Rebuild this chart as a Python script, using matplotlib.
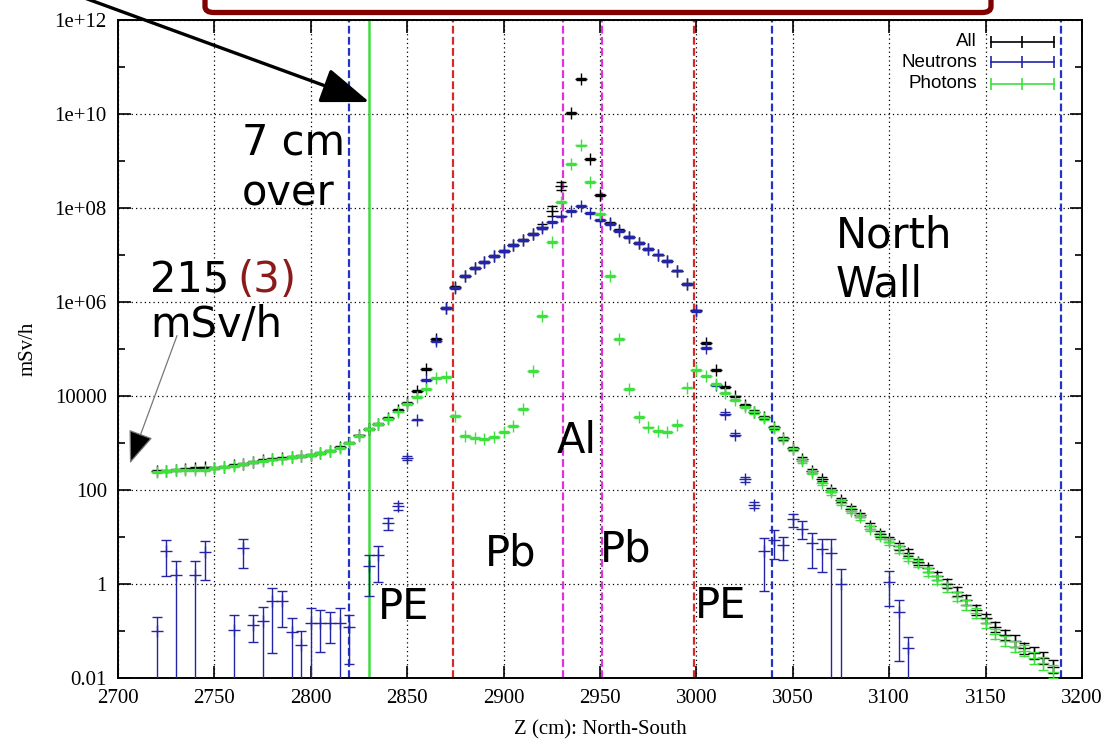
import numpy as np
import matplotlib
matplotlib.use("Agg")
import matplotlib.pyplot as plt
from matplotlib.lines import Line2D
from matplotlib.patches import FancyBboxPatch, FancyArrowPatch

# Dose rate along the North-South axis, one 5 cm bin per entry (log10 of mSv/h)
z_cm = np.arange(2720, 3186, 5)

all_log = [
    2.40, 2.41, 2.42, 2.44, 2.46, 2.48, 2.47, 2.50, 2.53, 2.56,
    2.60, 2.63, 2.66, 2.68, 2.71, 2.73, 2.75, 2.79, 2.84, 2.91,
    3.01, 3.16, 3.30, 3.41, 3.54, 3.70, 3.86, 4.11, 4.57, 5.21,
    5.87, 6.31, 6.56, 6.72, 6.86, 6.98, 7.09, 7.21, 7.32, 7.45,
    7.60, 7.94, 8.47, 10.03, 10.74, 9.04, 8.28, 7.69, 7.53, 7.39,
    7.26, 7.13, 7.01, 6.87, 6.67, 6.38, 5.82, 5.13, 4.55, 4.20,
    3.99, 3.80, 3.67, 3.55, 3.33, 3.10, 2.89, 2.66, 2.41, 2.23,
    2.00, 1.79, 1.60, 1.47, 1.24, 1.07, 0.95, 0.80, 0.67, 0.47,
    0.33, 0.17, 0.01, -0.16, -0.34, -0.55, -0.73, -0.91, -1.09, -1.21,
    -1.37, -1.47, -1.58, -1.76,
]

photons_log = [
    2.39, 2.40, 2.42, 2.43, 2.42, 2.43, 2.46, 2.49, 2.52, 2.55,
    2.59, 2.62, 2.65, 2.67, 2.70, 2.72, 2.74, 2.78, 2.83, 2.90,
    3.00, 3.15, 3.29, 3.40, 3.52, 3.67, 3.83, 3.97, 4.14, 4.38,
    4.40, 3.57, 3.15, 3.10, 3.08, 3.13, 3.23, 3.36, 3.72, 4.53,
    5.71, 7.27, 8.12, 8.93, 9.33, 8.55, 7.87, 6.55, 5.21, 4.14,
    3.55, 3.33, 3.26, 3.23, 3.38, 4.18, 4.56, 4.43, 4.26, 4.07,
    3.91, 3.77, 3.65, 3.53, 3.31, 3.08, 2.87, 2.62, 2.37, 2.14,
    1.95, 1.73, 1.56, 1.42, 1.18, 1.02, 0.90, 0.74, 0.55, 0.44,
    0.26, 0.09, -0.07, -0.27, -0.45, -0.62, -0.84, -1.06, -1.21, -1.33,
    -1.42, -1.58, -1.69, -1.87,
]

neutrons_log = [
    -1.01, 0.71, 0.19, None, 0.20, 0.68, None, None, -0.98, 0.77,
    -0.87, -0.79, -0.36, -0.36, -1.02, -1.30, -0.82, -0.82, -0.82, -0.82,
    -0.92, None, 0.39, 0.62, 1.30, 1.65, 2.69, 3.50, 4.34, 5.16,
    5.87, 6.30, 6.55, 6.72, 6.86, 6.98, 7.09, 7.21, 7.32, 7.45,
    7.58, 7.70, 7.82, 7.94, 8.05, 7.89, 7.74, 7.66, 7.52, 7.39,
    7.26, 7.13, 7.01, 6.87, 6.67, 6.38, 5.81, 5.03, 4.23, 3.62,
    3.18, 2.23, 1.68, 0.71, 0.94, 0.83, 1.38, 1.18, 0.87, 0.74,
    0.65, 0.01, None, None, None, None, 0.05, -0.60, -1.37, None,
    None, None, None, None, None, None, None, None, None, None,
    None, None, None, None,
]

# statistical errors in decades (upper / lower); 5 means the bar runs off the axis
neutrons_up = [
    0.30, 0.23, 0.29, 0, 0.28, 0.24, 0, 0, 0.31, 0.19,
    0.22, 0.31, 0.27, 0.22, 0.30, 0.29, 0.32, 0.27, 0.22, 0.32,
    0.27, 0, 0.23, 0.19, 0.10, 0.07, 0.04, 0.02, 0.02, 0.02,
    0.02, 0.02, 0.02, 0.02, 0.02, 0.02, 0.02, 0.02, 0.02, 0.02,
    0.02, 0.02, 0.02, 0.02, 0.02, 0.02, 0.02, 0.02, 0.02, 0.02,
    0.02, 0.02, 0.02, 0.02, 0.02, 0.02, 0.02, 0.02, 0.02, 0.03,
    0.04, 0.05, 0.06, 0.26, 0.21, 0.16, 0.11, 0.15, 0.22, 0.21,
    0.30, 0.30, 0, 0, 0, 0, 0.23, 0.26, 0.25, 0,
    0, 0, 0, 0, 0, 0, 0, 0, 0, 0,
    0, 0, 0, 0,
]
neutrons_dn = [
    5, 0.54, 5, 0, 5, 0.60, 0, 0, 5, 0.43,
    0.36, 5, 1.11, 0.55, 5, 5, 5, 0.62, 0.44, 5,
    0.79, 0, 0.64, 0.58, 0.15, 0.08, 0.05, 0.02, 0.02, 0.02,
    0.02, 0.02, 0.02, 0.02, 0.02, 0.02, 0.02, 0.02, 0.02, 0.02,
    0.02, 0.02, 0.02, 0.02, 0.02, 0.02, 0.02, 0.02, 0.02, 0.02,
    0.02, 0.02, 0.02, 0.02, 0.02, 0.02, 0.02, 0.02, 0.02, 0.03,
    0.04, 0.05, 0.06, 0.85, 0.41, 0.32, 0.17, 0.23, 0.54, 0.49,
    5, 5, 0, 0, 0, 0, 0.52, 1.03, 5, 0,
    0, 0, 0, 0, 0, 0, 0, 0, 0, 0,
    0, 0, 0, 0,
]
photons_err = [0.02] * 60 + [
    0.02, 0.02, 0.03, 0.03, 0.03, 0.03, 0.03, 0.04, 0.04, 0.04,
    0.05, 0.05, 0.05, 0.05, 0.06, 0.06, 0.06, 0.07, 0.07, 0.07,
    0.08, 0.08, 0.09, 0.09, 0.10, 0.10, 0.10, 0.11, 0.11, 0.12,
    0.12, 0.13, 0.13, 0.14,
]
all_err = [0.02] * 40 + [0.05, 0.10, 0.08] + [0.02] * 17 + [
    0.02, 0.02, 0.03, 0.03, 0.03, 0.03, 0.03, 0.04, 0.04, 0.04,
    0.05, 0.05, 0.05, 0.05, 0.06, 0.06, 0.06, 0.07, 0.07, 0.07,
    0.08, 0.08, 0.09, 0.09, 0.10, 0.10, 0.10, 0.11, 0.11, 0.12,
    0.12, 0.13, 0.13, 0.14,
]

# material boundaries (cm)
wall_edges = [2820, 3039, 3189]
lead_edges = [2874, 2999]
al_edges = [2931, 2951]
shift_line = 2830

ytick_exp = [-2, 0, 2, 4, 6, 8, 10, 12]
ytick_labels = ["0.01", "1", "100", "10000", "1e+06", "1e+08", "1e+10", "1e+12"]

C_ALL = "black"
C_NEU = "#2424a8"
C_PHO = "#3ee03e"


def log_errorbar(ax, z, logv, up, dn, color, zorder):
    logv = np.array([np.nan if v is None else v for v in logv], dtype=float)
    up = np.asarray(up, dtype=float)
    dn = np.asarray(dn, dtype=float)
    ok = ~np.isnan(logv)
    v = 10.0 ** logv[ok]
    yerr = [v - v * 10.0 ** (-dn[ok]), v * 10.0 ** up[ok] - v]
    ax.errorbar(z[ok], v, yerr=yerr, fmt="+", color=color, ms=8.5, mew=1.0,
                elinewidth=1.0, capsize=3.5, capthick=1.0, zorder=zorder)


fig = plt.figure(figsize=(11.15, 7.44), dpi=100)
ax = fig.add_axes([118 / 1115, 66 / 744, 964 / 1115, 658 / 744])
ax.set_yscale("log")
ax.set_xlim(2700, 3200)
ax.set_ylim(1e-2, 1e12)

for x in wall_edges:
    ax.axvline(x, color="#2233c8", ls=(0, (3.5, 1.5)), lw=1.6, zorder=2)
for x in lead_edges:
    ax.axvline(x, color="#d42a2a", ls=(0, (3.5, 1.5)), lw=1.6, zorder=2)
for x in al_edges:
    ax.axvline(x, color="#e030e0", ls=(0, (3.5, 1.5)), lw=1.6, zorder=2)
ax.axvline(shift_line, color="#40dd40", lw=1.8, zorder=2)

log_errorbar(ax, z_cm, all_log, all_err, all_err, C_ALL, 3)
log_errorbar(ax, z_cm, neutrons_log, neutrons_up, neutrons_dn, C_NEU, 4)
log_errorbar(ax, z_cm, photons_log, photons_err, photons_err, C_PHO, 5)

# axes, ticks, grid
ax.set_xticks(np.arange(2700, 3201, 50))
ax.set_yticks([10.0 ** e for e in ytick_exp])
ax.set_yticklabels(ytick_labels)
ax.set_yticks([10.0 ** e for e in range(-1, 12, 2)], minor=True)
ax.set_yticklabels([], minor=True)
ax.tick_params(which="both", direction="in", top=True, right=True, width=1.2)
ax.tick_params(which="major", length=9, pad=8)
ax.tick_params(which="minor", length=5)
ax.grid(True, which="major", ls=(0, (1, 2.5)), color="black", lw=0.9)
for lab in ax.get_xticklabels() + ax.get_yticklabels():
    lab.set_family("Liberation Serif")
    lab.set_fontsize(15)
for s in ax.spines.values():
    s.set_linewidth(1.4)
ax.set_xlabel("Z (cm): North-South", family="Liberation Serif", fontsize=15, labelpad=9)
ax.set_ylabel("mSv/h", family="Liberation Serif", fontsize=15, labelpad=12)

# legend: label right-aligned, sample bar to the right
legend_rows = [("All", C_ALL, 0.967), ("Neutrons", C_NEU, 0.936), ("Photons", C_PHO, 0.903)]
for name, col, yy in legend_rows:
    ax.text(0.891, yy, name, transform=ax.transAxes, ha="right", va="center",
            family="Liberation Sans", fontsize=13.5, zorder=6)
    ax.add_line(Line2D([0.9056, 0.938, 0.971], [yy, yy, yy], transform=ax.transAxes,
                       color=col, lw=1.2, marker="|", ms=9, mew=1.2, zorder=6))

# region labels
big = dict(family="DejaVu Sans", fontsize=30, va="baseline", ha="left", zorder=6)
ax.text(2764.3, 10 ** 9.13, "7 cm", **big)
ax.text(2764.3, 10 ** 8.06, "over", **big)
ax.text(2716.6, 10 ** 6.21, "215", **big)
ax.text(2762.0, 10 ** 6.21, "(3)", color="#8b1a1a", **big)
ax.text(2716.6, 10 ** 5.25, "mSv/h", **big)
ax.text(3072.4, 10 ** 7.15, "North", **big)
ax.text(3072.4, 10 ** 6.11, "Wall", **big)
ax.text(2927.7, 10 ** 2.78, "Al", **big)
ax.text(2890.4, 10 ** 0.40, "Pb", **big)
ax.text(2950.0, 10 ** 0.47, "Pb", **big)
ax.text(2834.9, 10 ** -0.75, "PE", **big)
ax.text(2999.3, 10 ** -0.72, "PE", **big)

# pointer arrows
W, H = 1115, 744
fig.add_artist(FancyArrowPatch((60 / W, 1 + 11 / H), (372 / W, 1 - 103 / H),
                               transform=fig.transFigure, arrowstyle="-|>,head_length=1.5,head_width=0.55",
                               mutation_scale=20, lw=2.4, color="black", zorder=7))
fig.add_artist(FancyArrowPatch((178 / W, 1 - 333 / H), (129 / W, 1 - 466 / H),
                               transform=fig.transFigure, arrowstyle="-|>,head_length=1.3,head_width=0.5",
                               mutation_scale=16, lw=0.9, edgecolor="#777777", facecolor="black", zorder=7))

# caption frame running off the top edge
fig.add_artist(FancyBboxPatch((205 / W, 1 - 12.5 / H), (991 - 205) / W, 0.1,
                              boxstyle="round,pad=0,rounding_size=0.008",
                              transform=fig.transFigure, fc="white", ec="#800000", lw=3.8, zorder=8))

fig.savefig("out.png", dpi=100)
